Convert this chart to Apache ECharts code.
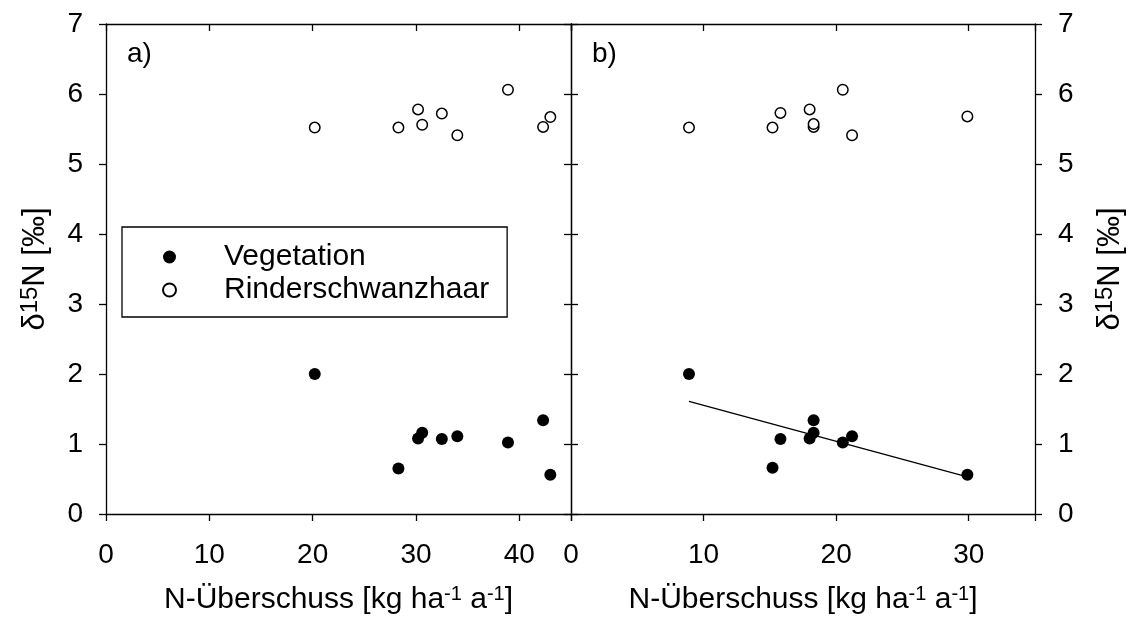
<!DOCTYPE html>
<html><head><meta charset="utf-8">
<script src="https://cdn.jsdelivr.net/npm/echarts@6/dist/echarts.min.js"></script>
<style>html,body{margin:0;padding:0;background:#fff}#c{width:1136px;height:630px}</style>
</head><body><div id="c"></div>
<script>
// Panel a)
const vegA_x  = [20.2, 28.3, 30.2, 30.6, 32.5, 34.0, 38.9, 42.3, 43.0];
const vegA_y  = [2.00, 0.65, 1.08, 1.16, 1.07, 1.11, 1.02, 1.34, 0.56];
const hairA_x = [20.2, 28.3, 30.2, 30.6, 32.5, 34.0, 38.9, 42.3, 43.0];
const hairA_y = [5.52, 5.52, 5.78, 5.56, 5.72, 5.41, 6.06, 5.53, 5.67];
// Panel b)
const vegB_x  = [8.9, 15.2, 15.8, 18.0, 18.3, 18.3, 20.5, 21.2, 29.9];
const vegB_y  = [2.00, 0.66, 1.07, 1.08, 1.34, 1.16, 1.02, 1.11, 0.56];
const hairB_x = [8.9, 15.2, 15.8, 18.0, 18.3, 18.3, 20.5, 21.2, 29.9];
const hairB_y = [5.52, 5.52, 5.73, 5.78, 5.53, 5.57, 6.06, 5.41, 5.68];
// regression line endpoints (panel b)
const regB_x = [8.9, 29.9];
const regB_y = [1.61, 0.53];
// ticks
const xTicksA = [0, 10, 20, 30, 40];
const xTicksB = [0, 10, 20, 30];
const yTicks  = [0, 1, 2, 3, 4, 5, 6, 7];
const seriesNames = ['Vegetation', 'Rinderschwanzhaar'];

const FF = "'Liberation Sans', Arial, Helvetica, sans-serif";
const LW = 1.3;
const pair = (xs, ys) => xs.map((x, i) => [x, ys[i]]);

const xName = '{n|N-Überschuss [kg ha}{s|-1}{n| a}{s|-1}{n|]}';
const xRich = { n: { fontFamily: FF, fontSize: 30, color: '#000', lineHeight: 32 },
                s: { fontFamily: FF, fontSize: 20, color: '#000', verticalAlign: 'top' } };
function xAx(grid, pos, max, ticks, labels) {
  return {
    type: 'value', gridIndex: grid, position: pos, min: 0, max: max, interval: 10,
    name: labels ? xName : '', nameLocation: 'middle', nameGap: 70,
    nameTextStyle: { rich: xRich },
    axisLine: { show: true, onZero: false, lineStyle: { color: '#000', width: LW } },
    axisTick: { show: true, inside: pos === 'top', length: 7, lineStyle: { color: '#000', width: LW } },
    axisLabel: { show: labels, margin: 27, color: '#000', fontFamily: FF, fontSize: 28,
      formatter: v => ticks.indexOf(v) >= 0 ? String(v) : '' },
    splitLine: { show: false }
  };
}
const yName = '{n|δ}{s|15}{n|N [‰]}';
const yRich = { n: { fontFamily: FF, fontSize: 31, color: '#000', lineHeight: 34 },
                s: { fontFamily: FF, fontSize: 24, color: '#000', verticalAlign: 'top' } };
function yAx(grid, pos, inside, labels, name, gap) {
  return {
    type: 'value', gridIndex: grid, position: pos, min: 0, max: 7, interval: 1,
    name: name ? yName : '', nameLocation: 'middle', nameRotate: 90, nameGap: gap || 0,
    nameTextStyle: { rich: yRich },
    axisLine: { show: true, onZero: false, lineStyle: { color: '#000', width: LW } },
    axisTick: { show: true, inside: inside, length: 7, lineStyle: { color: '#000', width: LW } },
    axisLabel: { show: labels, margin: 23, color: '#000', fontFamily: FF, fontSize: 28,
      formatter: v => yTicks.indexOf(v) >= 0 ? String(v) : '' },
    splitLine: { show: false }
  };
}
const filled = { color: '#000', opacity: 1 };
const open = { color: '#fff', borderColor: '#000', borderWidth: 1.5, opacity: 1 };

const option = {
  animation: false,
  backgroundColor: '#fff',
  grid: [
    { left: 106, top: 24, width: 465, height: 490 },
    { left: 571, top: 24, width: 464, height: 490 }
  ],
  xAxis: [
    xAx(0, 'bottom', 45, xTicksA, true),
    xAx(0, 'top', 45, xTicksA, false),
    xAx(1, 'bottom', 35, xTicksB, true),
    xAx(1, 'top', 35, xTicksB, false)
  ],
  yAxis: [
    yAx(0, 'left', false, true, true, 54),
    yAx(0, 'right', true, false, false),
    yAx(1, 'left', true, false, false),
    yAx(1, 'right', false, true, true, 58)
  ],
  legend: {
    left: 122, top: 227, orient: 'vertical', selectedMode: false,
    data: [{ name: seriesNames[0], icon: 'circle' }, { name: seriesNames[1], icon: 'circle' }],
    itemWidth: 13, itemHeight: 13, itemGap: 3,
    padding: [15, 18, 12, 40],
    borderColor: '#000', borderWidth: LW, borderRadius: 0,
    textStyle: { fontFamily: FF, fontSize: 30, color: '#000', lineHeight: 30, padding: [0, 0, 0, 43] }
  },
  series: [
    { name: seriesNames[0], type: 'scatter', xAxisIndex: 0, yAxisIndex: 0, symbolSize: 12,
      itemStyle: filled, data: pair(vegA_x, vegA_y), z: 3 },
    { name: seriesNames[1], type: 'scatter', xAxisIndex: 0, yAxisIndex: 0, symbolSize: 10.5,
      itemStyle: open, data: pair(hairA_x, hairA_y), z: 3 },
    { name: 'reg', type: 'line', xAxisIndex: 2, yAxisIndex: 2, symbol: 'none',
      lineStyle: { color: '#000', width: LW }, data: pair(regB_x, regB_y), z: 2 },
    { name: seriesNames[0], type: 'scatter', xAxisIndex: 2, yAxisIndex: 2, symbolSize: 12,
      itemStyle: filled, data: pair(vegB_x, vegB_y), z: 3 },
    { name: seriesNames[1], type: 'scatter', xAxisIndex: 2, yAxisIndex: 2, symbolSize: 10.5,
      itemStyle: open, data: pair(hairB_x, hairB_y), z: 3 }
  ],
  graphic: [
    { type: 'text', left: 127, top: 40, style: { text: 'a)', fontFamily: FF, fontSize: 28, fill: '#000' } },
    { type: 'text', left: 592, top: 40, style: { text: 'b)', fontFamily: FF, fontSize: 28, fill: '#000' } }
  ]
};
const chart = echarts.init(document.getElementById('c'), null, { renderer: 'canvas' });
chart.setOption(option);
</script>
</body></html>
